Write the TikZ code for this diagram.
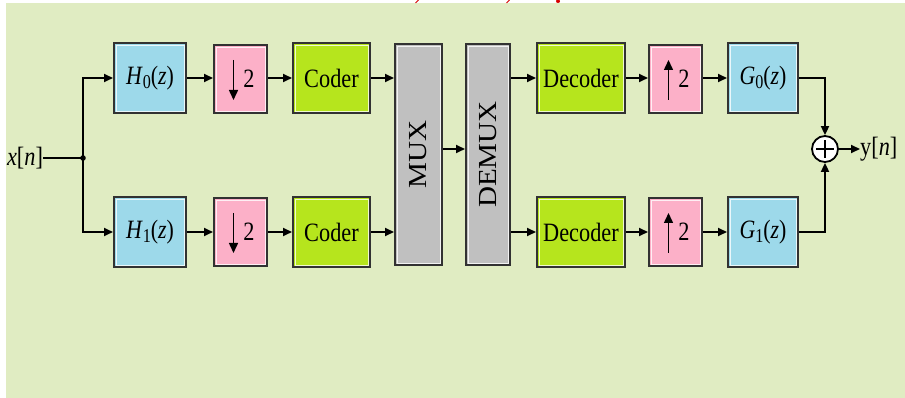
\documentclass[tikz,border=0pt]{standalone}
\usepackage{fontspec}
\setmainfont{Liberation Serif}
\usetikzlibrary{arrows.meta}
\definecolor{bggreen}{RGB}{224,236,194}
\definecolor{fblue}{RGB}{157,217,234}
\definecolor{fpink}{RGB}{252,176,200}
\definecolor{flime}{RGB}{182,229,29}
\definecolor{fgray}{RGB}{192,192,192}
\definecolor{edge}{RGB}{50,50,50}
\definecolor{tred}{RGB}{215,0,0}
\tikzset{
  blk/.style={draw=edge, line width=2pt, inner sep=0pt, minimum height=70pt,
    font=\fontsize{23}{23}\selectfont,
    path picture={\draw[white, line width=0.9pt, opacity=0.8]
      ([shift={(2pt,-2pt)}]path picture bounding box.north west) rectangle
      ([shift={(-2pt,2pt)}]path picture bounding box.south east);}},
  filt/.style={blk, fill=fblue, minimum width=72pt},
  rate/.style={blk, fill=fpink, minimum width=53pt, minimum height=68pt},
  cod/.style={blk, fill=flime, minimum width=77pt},
  dec/.style={blk, fill=flime, minimum width=88pt},
  mx/.style={blk, fill=fgray, minimum height=221pt},
  con/.style={line width=1.8pt, draw=black},
  arr/.style={con, -{Triangle[length=9pt,width=8pt]}},
  lbl/.style={font=\fontsize{23}{23}\selectfont, inner sep=0pt},
  ratearrow/.style={line width=1.5pt, -{Triangle[length=10pt,width=9pt]}},
}
\newcommand{\tf}[2]{\scalebox{0.95}[1.15]{\textit{#1}\raisebox{-4pt}{\fontsize{17}{17}\selectfont #2}(\textit{z})}}
\newcommand{\stt}[1]{\scalebox{0.97}[1.15]{#1}}
\begin{document}
\begin{tikzpicture}[x=1pt,y=-1pt]
\fill[white] (0,0) rectangle (905,398);
\fill[bggreen] (6,3.5) rectangle (905,398);
\useasboundingbox (0,0) rectangle (905,398);
% cut-off red title fragments
\draw[tred, line width=0.8pt] (418.5,0) -- (415.5,3);
\draw[tred, line width=0.8pt] (509.5,0) -- (506.5,3);
\fill[tred] (558,1.2) ellipse (2pt and 1.8pt);
% input
\node[lbl] (xin) at (25,158) {\stt{\textit{x}[\textit{n}]}};
\coordinate (j) at (83,158);
% top branch
\node[filt] (H0) at (150,78) {\tf{H}{0}};
\node[rate] (D0) at (240.5,79) {\hspace{17pt}\stt{2}};
\node[cod] (C0) at (331.5,78) {\stt{Coder}};
% bottom branch
\node[filt] (H1) at (150,232) {\tf{H}{1}};
\node[rate] (D1) at (240.5,232) {\hspace{17pt}\stt{2}};
\node[cod] (C1) at (331.5,232) {\stt{Coder}};
% mux / demux
\node[mx, minimum width=47pt] (MUX) at (418.5,154.5) {};
\node[rotate=90, font=\fontsize{26}{26}\selectfont, inner sep=0pt] (muxt) at (MUX.center) {\scalebox{1.12}[1]{MUX}};
\node[mx, minimum width=44pt] (DMX) at (488,154.5) {};
\node[rotate=90, font=\fontsize{26}{26}\selectfont, inner sep=0pt] (dmxt) at (DMX.center) {\scalebox{1.12}[1]{DEMUX}};
% synthesis
\node[dec] (E0) at (581,78) {\stt{Decoder}};
\node[rate] (U0) at (675.5,79) {\hspace{17pt}\stt{2}};
\node[filt, minimum width=70pt] (G0) at (763,78) {\tf{G}{0}};
\node[dec] (E1) at (581,232) {\stt{Decoder}};
\node[rate] (U1) at (675.5,232) {\hspace{17pt}\stt{2}};
\node[filt, minimum width=70pt] (G1) at (763,232) {\tf{G}{1}};
% adder
\node[circle, draw=black, line width=1.8pt, fill=white, minimum size=26pt, inner sep=0pt,
  path picture={\draw[line width=1.7pt] ([xshift=-9pt]path picture bounding box.center) -- ([xshift=9pt]path picture bounding box.center)
    ([yshift=-9pt]path picture bounding box.center) -- ([yshift=9pt]path picture bounding box.center);}] (S) at (825,149) {};
\node[lbl, anchor=west] (yout) at (860,149) {\stt{y[\textit{n}]}};
% rate arrows
\draw[ratearrow] ([shift={(-7pt,19pt)}]D0.center) -- ([shift={(-7pt,-21pt)}]D0.center);
\draw[ratearrow] ([shift={(-7pt,19pt)}]D1.center) -- ([shift={(-7pt,-21pt)}]D1.center);
\draw[ratearrow] ([shift={(-7pt,-21pt)}]U0.center) -- ([shift={(-7pt,19pt)}]U0.center);
\draw[ratearrow] ([shift={(-7pt,-21pt)}]U1.center) -- ([shift={(-7pt,19pt)}]U1.center);
% connectors
\draw[con] (xin.east) -- (j);
\fill (j) circle (2.8pt);
\draw[arr] (j) |- (H0.west);
\draw[arr] (j) |- (H1.west);
\draw[arr] (H0) -- (D0.west |- H0.east);
\draw[arr] (H1) -- (D1);
\draw[arr] (D0.east |- C0.east) -- (C0);
\draw[arr] (D1) -- (C1);
\draw[arr] (C0.east) -- (C0.east -| MUX.west);
\draw[arr] (C1.east) -- (C1.east -| MUX.west);
\draw[arr] ([yshift=5.5pt]MUX.east) -- ([yshift=5.5pt]DMX.west);
\draw[arr] (DMX.east |- E0.west) -- (E0.west);
\draw[arr] (DMX.east |- E1.west) -- (E1.west);
\draw[arr] (E0.east) -- (E0.east -| U0.west);
\draw[arr] (E1) -- (U1);
\draw[arr] (U0.east |- G0.west) -- (G0.west);
\draw[arr] (U1) -- (G1);
\draw[arr] (G0.east) -| (S.north);
\draw[arr] (G1.east) -| (S.south);
\draw[arr] (S.east) -- (yout.west);
\end{tikzpicture}
\end{document}
